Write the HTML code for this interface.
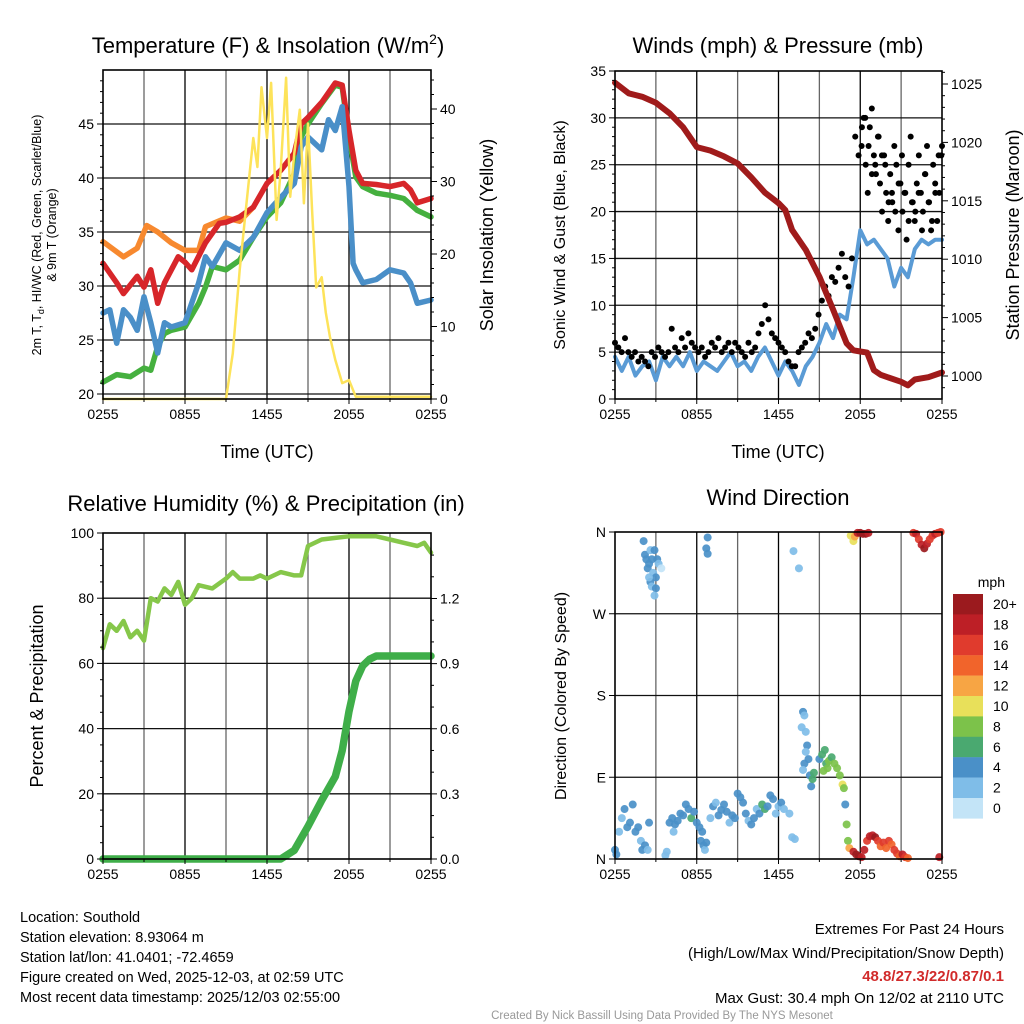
<!DOCTYPE html>
<html><head><meta charset="utf-8"><style>
html,body{margin:0;padding:0;background:#fff;}
svg{display:block;font-family:"Liberation Sans",Arial,sans-serif;}
</style></head><body>
<svg id="s" width="1024" height="1024" viewBox="0 0 1024 1024">
<g id="grid"></g><g id="marks"></g><g id="axes"></g>
<g id="txt" fill="#000">
<text x="268" y="53" font-size="22" text-anchor="middle">Temperature (F) &amp; Insolation (W/m<tspan font-size="14" dy="-9">2</tspan><tspan dy="9">)</tspan></text>
<text x="778" y="53" font-size="22" text-anchor="middle">Winds (mph) &amp; Pressure (mb)</text>
<text x="266" y="511" font-size="22" text-anchor="middle">Relative Humidity (%) &amp; Precipitation (in)</text>
<text x="778" y="505" font-size="22" text-anchor="middle">Wind Direction</text>
<text x="267" y="458" font-size="18" text-anchor="middle">Time (UTC)</text>
<text x="778" y="458" font-size="18" text-anchor="middle">Time (UTC)</text>
<text transform="translate(41,235) rotate(-90)" font-size="12.5" text-anchor="middle">2m T, T<tspan font-size="9" dy="3">d</tspan><tspan dy="-3">, HI/WC (Red, Green, Scarlet/Blue)</tspan></text>
<text transform="translate(56,235) rotate(-90)" font-size="12.5" text-anchor="middle">&amp; 9m T (Orange)</text>
<text transform="translate(493,235) rotate(-90)" font-size="18" text-anchor="middle">Solar Insolation (Yellow)</text>
<text transform="translate(565,235) rotate(-90)" font-size="16" text-anchor="middle">Sonic Wind &amp; Gust (Blue, Black)</text>
<text transform="translate(1019,235) rotate(-90)" font-size="18" text-anchor="middle">Station Pressure (Maroon)</text>
<text transform="translate(43,696) rotate(-90)" font-size="18" text-anchor="middle">Percent &amp; Precipitation</text>
<text transform="translate(566,696) rotate(-90)" font-size="16" text-anchor="middle">Direction (Colored By Speed)</text>
<text x="1005" y="587" font-size="14" text-anchor="end">mph</text>
<g font-size="14.5">
<text x="20" y="922">Location: Southold</text>
<text x="20" y="942">Station elevation: 8.93064 m</text>
<text x="20" y="962">Station lat/lon: 41.0401; -72.4659</text>
<text x="20" y="982">Figure created on Wed, 2025-12-03, at 02:59 UTC</text>
<text x="20" y="1002">Most recent data timestamp: 2025/12/03 02:55:00</text>
</g>
<g font-size="15" text-anchor="end">
<text x="1004" y="934">Extremes For Past 24 Hours</text>
<text x="1004" y="958">(High/Low/Max Wind/Precipitation/Snow Depth)</text>
<text x="1004" y="981" fill="#d12b2b" font-weight="bold">48.8/27.3/22/0.87/0.1</text>
<text x="1004" y="1003">Max Gust: 30.4 mph On 12/02 at 2110 UTC</text>
</g>
<text x="662" y="1019" font-size="11.5" fill="#999" text-anchor="middle">Created By Nick Bassill Using Data Provided By The NYS Mesonet</text>
</g>
</svg>
<script>
// ---- data ----
const tickLabels=["0255","0855","1455","2055","0255"];
const tT=[0,1,1.5,2.5,3,3.5,4,4.5,5.5,6,6.5,7.5,8.5,9,10,11,12,13,14,14.5,15,16,17,17.5,18,18.5,19,20,21,22,22.5,23,24];
const tempRed=[32.1,30.3,29.3,30.9,29.9,31.5,28.4,30.3,32.7,32.2,31.5,34,35.8,35.9,36.4,37.3,39.5,40.7,42.3,45,45.6,47,48.8,48.6,44.4,40.7,39.5,39.4,39.2,39.5,38.9,37.7,38.1];
const tO=[0,1.5,2.5,3.2,4,5,6,7,7.5,9,10,11];
const temp9m=[34.1,32.7,33.5,35.6,35,34,33.3,33.3,35.5,36.3,36,37.3];
const tG=[0,1,2,3,3.5,4,4.5,5,6,7,7.5,8,9,10,11,12,13,14,14.5,15,16,17,17.5,18,18.5,19,20,21,22,23,24];
const heatIdx=[21.1,21.8,21.6,22.4,22.2,24.4,25.6,25.9,26.2,28.4,29.9,31.8,31.5,32.4,34.5,36.4,37.7,40.4,43.8,45,46.9,48.6,48.4,43.8,40.1,39.2,38.6,38.4,38.1,37,36.4];
const tB=[0,0.5,1,1.5,2,2.5,3,3.5,4,4.5,5,6,7,7.5,8,9,10,11,12,13,14,14.5,15,16,16.5,17,17.5,18,18.3,18.5,19,20,21,22,22.5,23,24];
const dewPt=[27.5,27.8,24.7,27.8,27.1,25.9,29,26.6,23.8,26.6,26.2,26.6,30.3,32.7,31.8,34,33.3,34.5,36.8,38.2,39.5,42.9,43.8,42.6,45.4,44.4,46.6,39.2,32.1,31.5,30.3,30.6,31.5,31.2,30.3,28.4,28.7];
const tY=[0,9,9.5,10,10.5,11,11.3,11.6,12,12.3,12.7,13,13.4,13.7,14,14.4,14.7,15,15.3,15.6,16,16.3,16.6,17,17.5,18,18.5,24];
const insol=[0,0,6.3,17.8,27,36,32,43,36,43.6,24.7,31.6,44.3,27.9,33.9,39.9,27,38,26,15.4,16.8,11.9,8.6,5.4,2.2,2.6,0.3,0.3];
const tP=[0,1,2,3,4,5,6,7,8,9,10,11,12,12.5,13,14,15,16,17,17.5,18,18.5,19,19.5,20,21,21.5,22,23,24];
const pressure=[1025.1,1024.2,1023.9,1023.4,1022.5,1021.3,1019.6,1019.3,1018.8,1018.2,1017,1015.7,1014.8,1014.2,1012.5,1010.8,1008.5,1005.7,1002.8,1002.2,1002.1,1002,1000.5,1000.1,999.9,999.5,999.2,999.7,999.9,1000.3];
const wind=[4.5,3,4.5,2.5,3.5,4,2,4.5,3.5,4.5,3.5,5,3,4,3.5,3,4,5,3.5,4,3,4.5,5.5,4,2.5,4,3,1.5,3.5,4.5,6,8,6.5,9,8.5,13,18,16.5,17,16,15,12,14,13,16,17,16.5,17,17];
const gust=[6,5.5,5,6.5,5,4.5,5,4,4.5,4,3.5,5,4.5,5.5,5,4.5,5,7.5,5.5,5,6.5,5.5,7,6,5.5,5,5.5,4.5,5,6,5.5,6.5,5,5.5,6,5,6,5.5,5,4.5,6,5,5.5,7,8,10,8.5,7,6.5,6,5.5,5,4,3.5,3.5,5,5.5,6,7,6.5,7.5,9,10.5,12,11,13,12.5,14,15.5,13,12,15,28,26,29,30,27,24,25,28,26,25,21,22,20,23,26,22,19,21,20,22,18,24,21,19,22,26,27];
const tGL=[18.1,18.25,18.4,18.55,18.7,18.85,19,19.15,19.3,19.45,19.6,19.75,19.9,20.05,20.2,20.35,20.5,20.65,20.8,20.95,21.1,21.25,21.4,21.55,21.7,21.85,22,22.15,22.3,22.45,22.6,22.75,22.9,23.05,23.2,23.35,23.5,23.65,23.8,23.95];
const gustLate=[27,30,25,22,29,31,26,24,28,23,20,26,22,19,24,21,27,25,18,23,20,22,17,25,28,21,19,23,26,22,20,24,27,21,18,25,23,19,22,26];
const tR=[0,0.5,1,1.5,2,2.5,3,3.5,4,4.5,5,5.5,6,6.5,7,8,9,9.5,10,11,11.5,12,13,14,14.5,15,16,17,18,19,20,21,22,23,23.5,24];
const rh=[64.7,72,70,73,68,70,67,80,79,83,81,85,78,80,84,83,86,88,86,86,87,86,88,87,87,96,98,98.5,99,99,99,98,97,96,97,94];
const tPr=[0,13,14,15,16,17,17.5,18,18.5,19,19.5,20,24];
const precip=[0,0,0.04,0.15,0.27,0.38,0.5,0.68,0.82,0.89,0.92,0.935,0.935];
const dirObs=[[0,10,3],[0.1,5,4],[0.3,30,2],[0.5,45,2],[0.7,55,4],[0.9,35,4],[1.1,40,4],[1.3,60,3],[1.5,30,4],[1.7,35,4],[1.9,20,2],[2.0,10,4],[2.2,15,3],[2.4,10,2],[2.5,40,3],
[2.1,350,4],[2.2,335,4],[2.3,330,3],[2.4,320,3],[2.5,325,4],[2.6,340,2],[2.7,330,3],[2.8,315,2],[2.9,340,4],[3.0,310,3],[3.1,330,3],[3.2,325,1],[2.6,305,3],[2.7,300,2],[2.5,310,2],[3.0,298,3],[3.4,320,0.5],[2.9,290,2],
[3.7,4,2],[3.8,8,2],[4.0,40,4],[4.2,45,4],[4.4,38,4],[4.6,42,4],[4.8,50,4],[5.0,48,4],[5.2,60,4],[5.4,55,4],[5.6,45,6],[4.3,30,2],[5.8,52,4],[6.0,40,4],[6.2,35,4],[6.4,30,3],[6.5,15,4],[6.6,10,2],[6.7,18,4],[6.3,20,4],
[6.8,354,4],[6.7,342,3],[6.8,336,3],
[7.0,45,2],[7.2,58,3],[7.4,62,2],[7.6,48,4],[7.8,54,4],[8.0,60,4],[8.2,52,4],[8.4,40,2],[8.6,48,4],[8.8,45,4],[9.0,72,4],[9.2,68,4],[9.4,62,4],[9.6,50,4],[9.8,42,2],[10.0,38,4],[10.2,45,4],[10.4,55,2],[10.6,50,4],[10.8,60,6],[11.0,55,6],[11.2,58,4],[11.4,70,4],[11.6,66,3],[11.8,50,2],[12.0,58,2],[12.2,62,4],[12.4,55,2],
[13.0,24,2],[13.2,22,2],[12.8,50,2],[13.1,339,2],[13.5,320,2],
[13.8,162,4],[13.9,158,2],[13.7,145,2],[14.0,140,2],[14.1,125,4],[14.0,118,2],[13.9,105,4],[13.8,98,2],[14.2,110,4],[14.3,92,4],[14.4,80,4],[14.5,88,6],[14.6,95,6],
[15.0,110,4],[15.2,115,6],[15.4,120,6],[15.5,105,6],[15.7,108,8],[15.9,112,6],[16.1,105,8],[16.3,100,8],[16.5,92,8],[16.7,82,10],[16.8,78,8],[15.6,100,8],[15.3,97,8],
[16.9,60,4],[17.0,38,8],[17.1,20,8],[17.2,12,12],
[17.5,8,18],[17.7,5,20],[17.9,3,20],[18.1,2,18],[18.3,10,18],[18.5,20,16],[18.7,25,18],[18.9,26,18],[19.1,24,20],[19.3,20,16],[19.5,14,14],[19.7,18,16],[19.9,12,14],[20.1,20,16],[20.3,16,14],[20.5,10,16],[20.7,6,16],[20.9,3,14],[21.1,5,18],[21.3,2,16],[21.5,1,14],[23.8,2,18],
[17.3,356,10],[17.5,350,10],[17.6,355,12],[17.8,359,18],[18.0,359,20],[18.2,358,20],[18.4,358,20],[18.6,359,18],
[21.9,359,16],[22.1,358,18],[22.3,352,16],[22.5,346,18],[22.7,342,20],[22.9,347,18],[23.1,352,16],[23.3,356,16],[23.5,358,18],[23.7,359,16],[23.9,360,16]];
const speedLabels=["20+","18","16","14","12","10","8","6","4","2","0"];
const speedColors=["#c3e4f7","#7fbde8","#4a90c8","#4aa970","#7cc24a","#e8e05a","#f7a544","#f1642b","#e03b2d","#bd1f26","#9b1a1e"];

// ---- helpers ----
const NS="http://www.w3.org/2000/svg";
const G=document.getElementById('grid'),M=document.getElementById('marks'),A=document.getElementById('axes');
function mk(tag,at,par){const e=document.createElementNS(NS,tag);for(const k in at)e.setAttribute(k,at[k]);par.appendChild(e);return e;}
function lin(d0,d1,r0,r1){return v=>r0+(v-d0)*(r1-r0)/(d1-d0);}
function txt(x,y,s,anchor,par,size){const e=mk('text',{x:x,y:y,'font-size':size||14,'text-anchor':anchor},par);e.textContent=s;return e;}
function panel(x0,x1,y0,y1,name){
  const xs=lin(0,24,x0,x1);
  for(let h=3;h<24;h+=3){const l=mk('line',{x1:xs(h),x2:xs(h),y1:y0,y2:y1,stroke:h%6==0?'#000':'#666','stroke-width':1.3},G);
  
  }
  const r=mk('rect',{x:x0,y:y0,width:x1-x0,height:y1-y0,fill:'none',stroke:'#000','stroke-width':1.6},A);
  
  
  tickLabels.forEach((s,i)=>{const x=xs(i*6);mk('line',{x1:x,x2:x,y1:y1,y2:y1+5,stroke:'#000'},A);
    const t=txt(x,y1+20,s,'middle',A,14);
    
    });
  for(let h=3;h<24;h+=6){mk('line',{x1:xs(h),x2:xs(h),y1:y1,y2:y1+3,stroke:'#000'},A);}
  return {xs:xs,y0:y0,y1:y1};
}
function yaxis(x,side,ys,vals,labs,minor,name,top,bot){
  const d=side<0?-1:1;
  vals.forEach((v,i)=>{mk('line',{x1:x,x2:x+d*6,y1:ys(v),y2:ys(v),stroke:'#000'},A);
    const t=txt(x+d*9,ys(v)+5,labs[i],side<0?'end':'start',A,14);
    
    });
  (minor||[]).forEach(v=>{const y=ys(v);if(y<top||y>bot)return;mk('line',{x1:x,x2:x+d*3,y1:y,y2:y,stroke:'#000'},A);});
}
function hgrid(x0,x1,ys,vals,name){vals.forEach(v=>{const l=mk('line',{x1:x0,x2:x1,y1:ys(v),y2:ys(v),stroke:'#111','stroke-width':1.3},G);
  
  });}
function path(xs,ys,ts,vs,col,w,name){
  const d=ts.map((t,i)=>(i?'L':'M')+xs(t).toFixed(1)+','+ys(vs[i]).toFixed(1)).join('');
  const p=mk('path',{d:d,fill:'none',stroke:col,'stroke-width':w,'stroke-linejoin':'round','stroke-linecap':'round'},M);
  
  
}
function range(a,b,s){const r=[];for(let v=a;v<=b+1e-9;v+=s)r.push(+v.toFixed(3));return r;}

// ---- panel 1 ----
let P=panel(103,431,70,399,'temp'),xs=P.xs;
let yT=lin(20,45,394,124), yI=lin(0,40,399,109);
hgrid(103,431,yT,[20,25,30,35,40,45],'temp');
yaxis(103,-1,yT,[20,25,30,35,40,45],["20","25","30","35","40","45"],range(21,49,1).filter(v=>v%5),'temp-y',70,399);
yaxis(431,1,yI,[0,10,20,30,40],["0","10","20","30","40"],range(2,44,2).filter(v=>v%10),'insolation-y',70,399);
path(xs,yT,tO,temp9m,'#f7892f',5.5,'temp-9m-line');
path(xs,yT,tG,heatIdx,'#45b03f',5.5,'heat-index-line');
path(xs,yT,tT,tempRed,'#d7262a',5.5,'temp-2m-line');
path(xs,yT,tB,dewPt,'#4a8fc8',5.5,'dewpoint-line');
path(xs,yI,tY,insol,'#fde35a',2.5,'insolation-line');

// ---- panel 2 ----
P=panel(615,942,71,399,'wind');xs=P.xs;
let yW=lin(0,35,399,71), yP=lin(1000,1025,376,84);
hgrid(615,942,yW,[5,10,15,20,25,30],'wind');
yaxis(615,-1,yW,[0,5,10,15,20,25,30,35],["0","5","10","15","20","25","30","35"],range(1,34,1).filter(v=>v%5),'wind-y',71,399);
yaxis(942,1,yP,[1000,1005,1010,1015,1020,1025],["1000","1005","1010","1015","1020","1025"],range(998,1027,1).filter(v=>v%5),'pressure-y',71,399);
path(xs,yW,wind.map((v,i)=>i*24/(wind.length-1)),wind,'#5a9bd5',4,'sonic-wind-line');
gust.forEach((v,i)=>{const c=mk('circle',{cx:xs(i*24/(gust.length-1)),cy:yW(v),r:3,fill:'#000'},M);
  
  });
gustLate.forEach((v,i)=>{const c=mk('circle',{cx:xs(tGL[i]),cy:yW(v),r:3,fill:'#000'},M);
  
  });
path(xs,yP,tP,pressure,'#a01b1b',6,'pressure-line');

// ---- panel 3 ----
P=panel(103,431,533,859,'rh');xs=P.xs;
let yR=lin(0,100,859,533), yPr=lin(0,1.2,859,598.5);
hgrid(103,431,yR,[20,40,60,80],'rh');
yaxis(103,-1,yR,[0,20,40,60,80,100],["0","20","40","60","80","100"],range(5,95,5).filter(v=>v%20),'rh-y',533,859);
yaxis(431,1,yPr,[0,0.3,0.6,0.9,1.2],["0.0","0.3","0.6","0.9","1.2"],range(0.1,1.4,0.1).filter(v=>Math.abs(v*10%3)>0.01),'precip-y',533,859);
path(xs,yR,tR,rh,'#86c74a',4.5,'rh-line');
path(xs,yPr,tPr,precip,'#3fae49',7.5,'precip-line');

// ---- panel 4 ----
P=panel(615,942,532,859,'dir');xs=P.xs;
let yD=lin(0,360,859,532);
hgrid(615,942,yD,[90,180,270],'dir');
yaxis(615,-1,yD,[0,90,180,270,360],["N","E","S","W","N"],[],'dir-y',532,859);
dirObs.forEach(o=>{const k=Math.min(10,Math.round(o[2]/2));
  const c=mk('circle',{cx:xs(o[0]),cy:yD(o[1]),r:4,fill:speedColors[k],'fill-opacity':0.92},M);
  
  });
// colorbar
speedLabels.forEach((s,i)=>{const y=594+i*20.4;
  const r=mk('rect',{x:953,y:y,width:30,height:20.6,fill:speedColors[10-i]},A);
  
  
  const t=txt(993,y+15,s,'start',A,14);
  
  });
</script>
</body></html>
